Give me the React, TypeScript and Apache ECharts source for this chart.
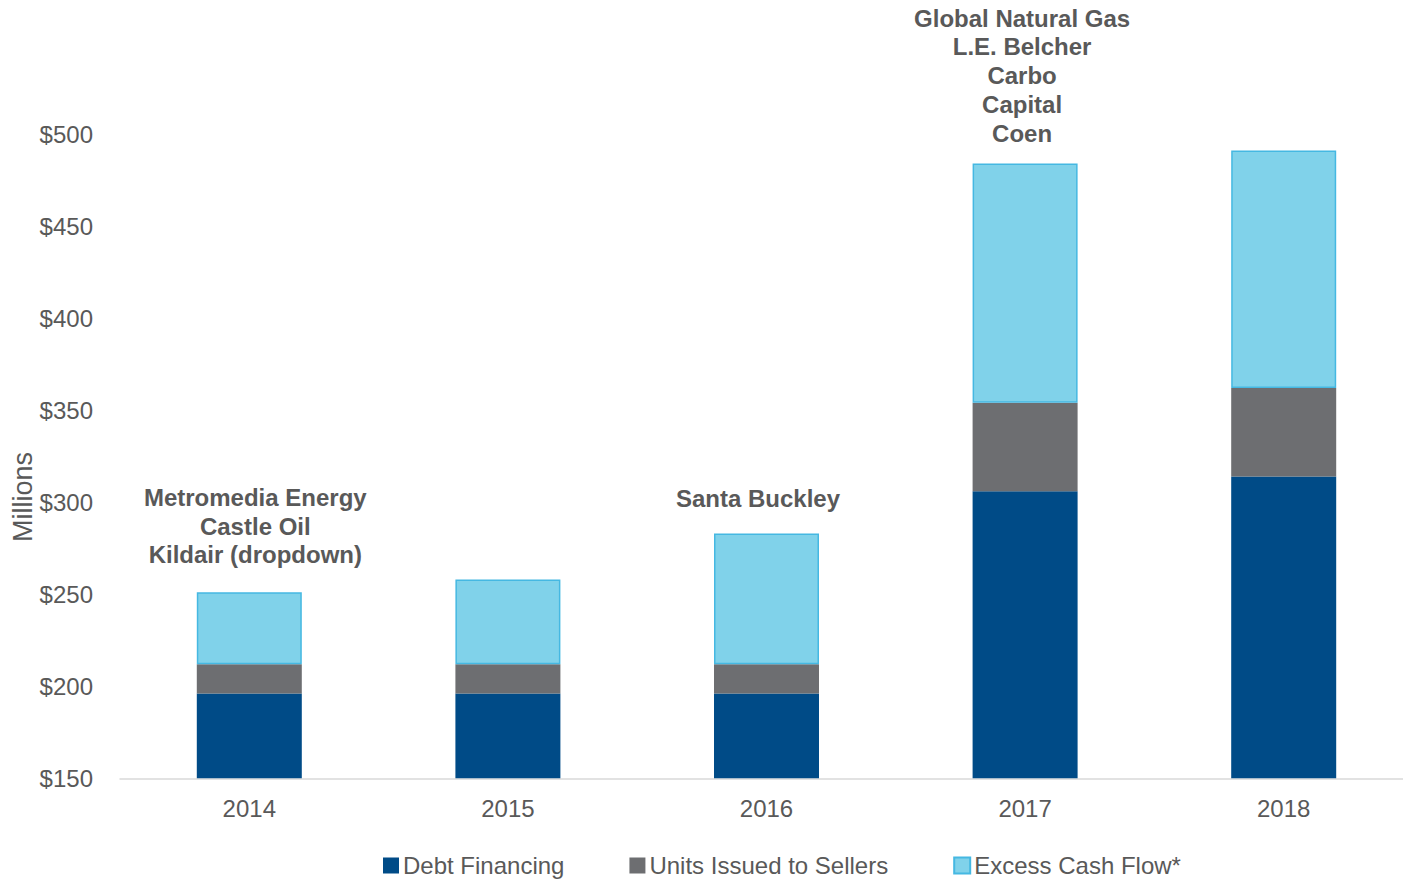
import React, { useEffect, useRef } from "react";
import * as echarts from "echarts";

const categories = ["2014", "2015", "2016", "2017", "2018"];
const debtFinancing = [196, 196, 196, 306, 314];
const unitsIssued = [16, 16, 16, 48, 48];
const excessCashFlow = [39, 46, 71, 130, 129];
const annotations = [
  "Metromedia Energy\nCastle Oil\nKildair (dropdown)",
  "",
  "Santa Buckley",
  "Global Natural Gas\nL.E. Belcher\nCarbo\nCapital\nCoen",
  "",
];
const yTicks = { min: 150, max: 500, interval: 50 };

// label styling (not data)
const annotationShiftX = [6, 0, -8.5, -3, 0];
const annotationGap = [23, 0, 20.5, 16, 0];

const TEXT = "#595959";
const FONT = "'Liberation Sans', Arial, sans-serif";

export default function App() {
  const ref = useRef<HTMLDivElement>(null);
  useEffect(() => {
    if (!ref.current) return;
    const chart = echarts.init(ref.current, undefined, { renderer: "svg" });
    const excessData = excessCashFlow.map((v, i) => ({
      value: v,
      label: annotations[i]
        ? {
            show: true,
            position: "top",
            distance: annotationGap[i],
            offset: [annotationShiftX[i], 0],
            formatter: annotations[i],
            color: TEXT,
            fontWeight: "bold",
            fontSize: 24,
            lineHeight: 28.75,
            fontFamily: FONT,
            align: "center",
          }
        : { show: false },
    }));
    chart.setOption({
      animation: false,
      textStyle: { fontFamily: FONT },
      grid: { left: 120, top: 134, width: 1293, height: 644.3, containLabel: false },
      legend: {
        top: 853.5,
        left: 383,
        padding: 0,
        icon: "rect",
        itemWidth: 16,
        itemHeight: 16,
        itemGap: 65,
        textStyle: { color: TEXT, fontSize: 24, fontFamily: FONT, padding: [0, 0, 0, -1] },
        data: ["Debt Financing", "Units Issued to Sellers", "Excess Cash Flow*"],
      },
      graphic: [
        {
          type: "text",
          x: 23,
          y: 497,
          rotation: Math.PI / 2,
          style: {
            text: "Millions",
            fill: TEXT,
            fontSize: 27,
            fontFamily: FONT,
            align: "center",
            verticalAlign: "middle",
          },
        },
      ],
      xAxis: {
        type: "category",
        data: categories,
        axisLine: { lineStyle: { color: "#D9D9D9", width: 1.5 } },
        axisTick: { show: false },
        axisLabel: { color: TEXT, fontSize: 24, margin: 18, fontFamily: FONT },
      },
      yAxis: {
        type: "value",
        min: yTicks.min,
        max: yTicks.max,
        interval: yTicks.interval,
        splitLine: { show: false },
        axisLine: { show: false },
        axisTick: { show: false },
        axisLabel: {
          color: TEXT,
          fontSize: 24,
          margin: 27,
          fontFamily: FONT,
          formatter: (v: number) => "$" + v,
        },
      },
      series: [
        {
          name: "Debt Financing",
          type: "bar",
          stack: "total",
          barWidth: 105,
          data: debtFinancing,
          itemStyle: { color: "#004B87" },
        },
        {
          name: "Units Issued to Sellers",
          type: "bar",
          stack: "total",
          barWidth: 105,
          data: unitsIssued,
          itemStyle: { color: "#6D6E71" },
        },
        {
          name: "Excess Cash Flow*",
          type: "bar",
          stack: "total",
          barWidth: 105,
          data: excessData,
          itemStyle: { color: "#80D2EA", borderColor: "#45B8E2", borderWidth: 1.5 },
        },
      ],
    });
    return () => chart.dispose();
  }, []);
  return (
    <div
      style={{
        position: "absolute",
        left: 0,
        top: 0,
        width: 1403,
        height: 880,
        overflow: "hidden",
        background: "#fff",
      }}
    >
      <div ref={ref} style={{ width: 1420, height: 880 }} />
    </div>
  );
}
